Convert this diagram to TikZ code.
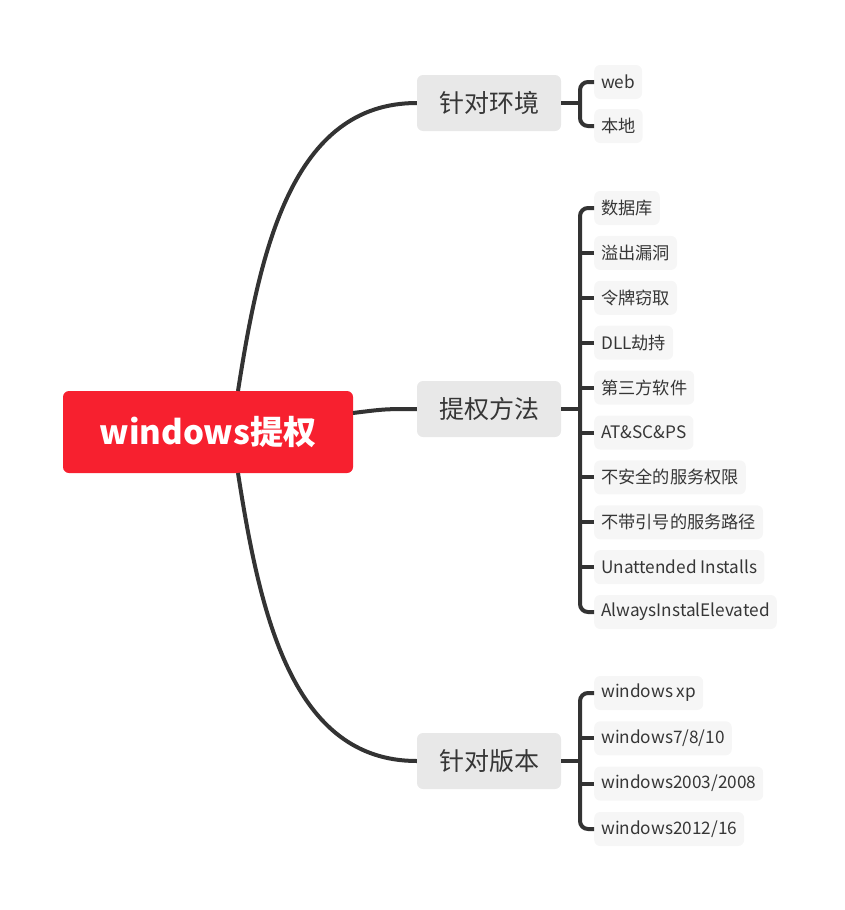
\documentclass[tikz,border=0pt]{standalone}
\usepackage{fontspec}
\setmainfont{Noto Sans CJK SC}
\usetikzlibrary{positioning}
\definecolor{rootred}{HTML}{F7202F}
\definecolor{branchgray}{HTML}{E8E8E8}
\definecolor{leafgray}{HTML}{F6F6F6}
\definecolor{txtgray}{HTML}{363636}
\definecolor{linegray}{HTML}{333333}

\begin{document}
\begin{tikzpicture}[x=1pt,y=-1pt,
        root/.style={rectangle,rounded corners=6pt,fill=rootred,text=white,minimum width=290pt,minimum height=82pt,font=\fontsize{33}{38}\selectfont\bfseries},
        branch/.style={rectangle,rounded corners=6pt,fill=branchgray,text=txtgray,minimum width=144pt,minimum height=56pt,font=\fontsize{25}{29}\selectfont},
        leaf/.style={rectangle,rounded corners=6pt,fill=leafgray,text=txtgray,anchor=west,inner xsep=7pt,minimum height=34pt,font=\fontsize{17.2}{20}\selectfont},
        link/.style={draw=linegray,line width=4pt}]
        \useasboundingbox (0,0) rectangle (845,910);
        \node[root]  (win) at (208,432) {windows提权};
        \node[branch] (env) at (489,103) {针对环境};
        \node[branch] (meth) at (489,409) {提权方法};
        \node[branch] (ver) at (489,761) {针对版本};
        \coordinate (winup) at (238,391);
        \coordinate (windown) at (238,473);
        \coordinate (wineast) at (353,413);
        % leaves
        \node[leaf] (web) at (594,82) {web};
        \node[leaf] (local) at (594,126) {本地};
        \node[leaf] (m1) at (594,208) {数据库};
        \node[leaf] (m2) at (594,252.9) {溢出漏洞};
        \node[leaf] (m3) at (594,297.8) {令牌窃取};
        \node[leaf] (m4) at (594,342.7) {DLL劫持};
        \node[leaf] (m5) at (594,387.6) {第三方软件};
        \node[leaf] (m6) at (594,432.5) {AT\&SC\&PS};
        \node[leaf] (m7) at (594,477.4) {不安全的服务权限};
        \node[leaf] (m8) at (594,522.3) {不带引号的服务路径};
        \node[leaf] (m9) at (594,567.2) {Unattended Installs};
        \node[leaf] (m10) at (594,612) {AlwaysInstalElevated};
        \node[leaf] (v1) at (594,693) {windows xp};
        \node[leaf] (v2) at (594,738.3) {windows7/8/10};
        \node[leaf] (v3) at (594,783.6) {windows2003/2008};
        \node[leaf] (v4) at (594,829) {windows2012/16};
        % root to branches
        \draw[link] (winup) .. controls (260,250) and (292,103) .. (env.west);
        \draw[link] (wineast) .. controls (385,409) .. (meth.west);
        \draw[link] (windown) .. controls (260,614) and (292,761) .. (ver.west);
        % brackets
        \draw[link] (env.east) -- ++(19,0);
        \draw[link,rounded corners=8pt] (web.west) -- ++(-14,0) |- (local.west);
        \draw[link] (meth.east) -- ++(19,0);
        \draw[link,rounded corners=8pt] (m1.west) -- ++(-14,0) |- (m10.west);
        \draw[link] (m2.west) -- ++(-14,0) (m3.west) -- ++(-14,0) (m4.west) -- ++(-14,0)
          (m5.west) -- ++(-14,0) (m6.west) -- ++(-14,0) (m7.west) -- ++(-14,0)
          (m8.west) -- ++(-14,0) (m9.west) -- ++(-14,0);
        \draw[link] (ver.east) -- ++(19,0);
        \draw[link,rounded corners=8pt] (v1.west) -- ++(-14,0) |- (v4.west);
        \draw[link] (v2.west) -- ++(-14,0) (v3.west) -- ++(-14,0);
      \end{tikzpicture}
\end{document}
